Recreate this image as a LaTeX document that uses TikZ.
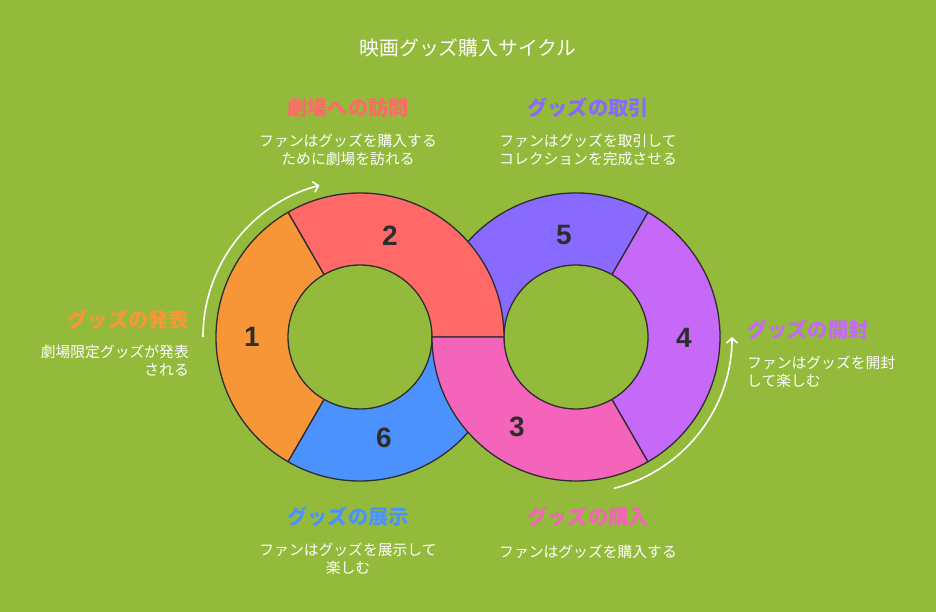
\documentclass[tikz,border=0pt]{standalone}
\usepackage{fontspec}
\setmainfont{Noto Sans CJK JP}
\newfontfamily\numfont{Liberation Sans}
\usetikzlibrary{arrows.meta}
\definecolor{bg}{RGB}{147,186,58}
\definecolor{cOrange}{RGB}{247,150,55}
\definecolor{cRed}{RGB}{255,106,104}
\definecolor{cBlue}{RGB}{76,146,255}
\definecolor{cPurple}{RGB}{136,106,255}
\definecolor{cViolet}{RGB}{198,104,248}
\definecolor{cPink}{RGB}{243,100,186}
\definecolor{cLine}{RGB}{45,45,45}
\tikzset{
  seg/.style={draw=cLine, line width=1.3pt, line join=round},
  numlbl/.style={font=\numfont\bfseries\fontsize{28}{30}\selectfont, text=cLine},
  heading/.style={font=\bfseries\fontsize{20.2}{22}\selectfont},
  desc/.style={font=\fontsize{14.8}{18}\selectfont, text=white, inner sep=0pt},
  cyclearrow/.style={draw=white, line width=1.6pt, -{Straight Barb[length=5pt,width=11pt,line width=1.6pt]}},
}
\newcommand{\ringseg}[5]{% center, start, end, color
  \path[seg, fill=#4] ([shift={(#1)}]#2:144) arc[start angle=#2, end angle=#3, radius=144]
    -- ([shift={(#1)}]#3:72) arc[start angle=#3, end angle=#2, radius=72] -- cycle;}
\begin{document}
\begin{tikzpicture}[x=1pt,y=1pt]
\useasboundingbox (0,0) rectangle (936,612);
\fill[bg] (0,0) rectangle (936,612);
\coordinate (L) at (360,275);
\coordinate (R) at (576,275);
% segments, back to front
\ringseg{L}{240}{360}{cBlue}{}
\ringseg{R}{60}{180}{cPurple}{}
\ringseg{L}{0}{120}{cRed}{}
\ringseg{L}{120}{240}{cOrange}{}
\ringseg{R}{180}{300}{cPink}{}
\ringseg{R}{-60}{60}{cViolet}{}
% numbers
\node[numlbl] (n1) at (252,275) {1};
\node[numlbl] (n2) at (390,376) {2};
\node[numlbl] (n3) at (517,185) {3};
\node[numlbl] (n4) at (684,274) {4};
\node[numlbl] (n5) at (564,377) {5};
\node[numlbl] (n6) at (384,174) {6};
% arrows
\draw[cyclearrow] ([shift={(L)}]180:157) arc[start angle=180, end angle=105, radius=157];
\draw[cyclearrow] ([shift={(R)}]-76:156) arc[start angle=-76, end angle=0, radius=156];
% title
\node[font=\fontsize{19.8}{22}\selectfont, text=white] (title) at (468,564) {映画グッズ購入サイクル};
% headings and descriptions
\node[heading, text=cRed] (h2) at (348,504) {劇場への訪問};
\node[desc, align=center] (d2) at (348,462) {ファンはグッズを購入する\\ために劇場を訪れる};
\node[heading, text=cPurple] (h5) at (588,504) {グッズの取引};
\node[desc, align=center] (d5) at (588,462) {ファンはグッズを取引して\\コレクションを完成させる};
\node[heading, text=cOrange, anchor=east, inner sep=0pt] (h1) at (189,292) {グッズの発表};
\node[desc, align=right, anchor=east] (d1) at (189,251) {劇場限定グッズが発表\\される};
\node[heading, text=cViolet, anchor=west, inner sep=0pt] (h4) at (747,282) {グッズの開封};
\node[desc, align=left, anchor=west] (d4) at (747,240) {ファンはグッズを開封\\して楽しむ};
\node[heading, text=cBlue] (h6) at (348,95) {グッズの展示};
\node[desc, align=center] (d6) at (348,53) {ファンはグッズを展示して\\楽しむ};
\node[heading, text=cPink] (h3) at (588,95) {グッズの購入};
\node[desc, align=center] (d3) at (588,60) {ファンはグッズを購入する};
\end{tikzpicture}
\end{document}
